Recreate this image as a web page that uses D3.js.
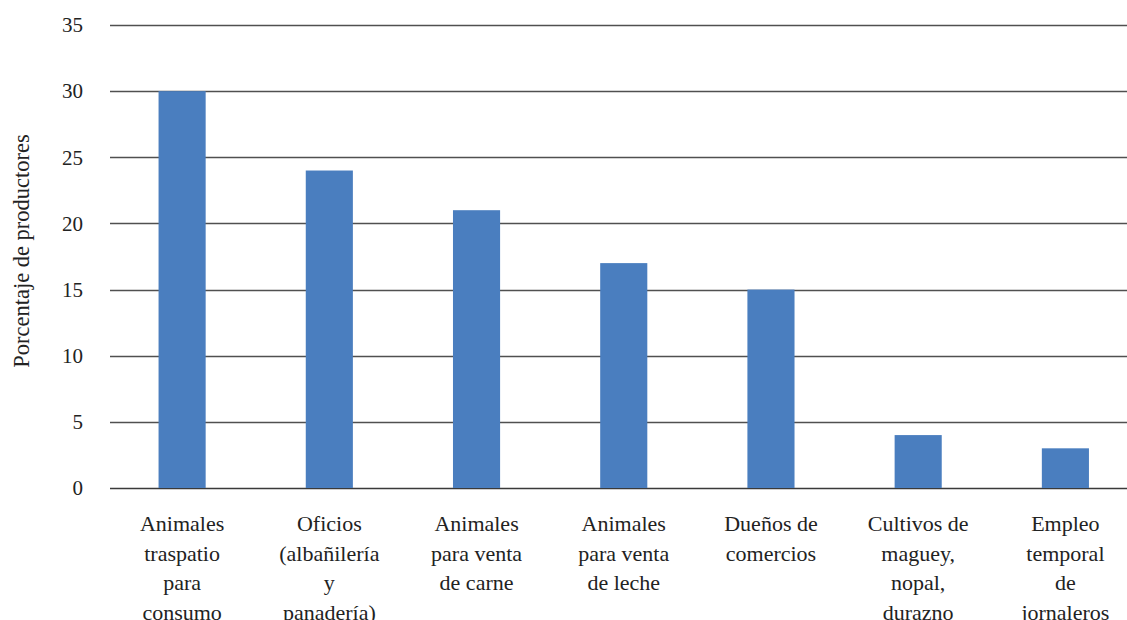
<!DOCTYPE html>
<html>
<head>
<meta charset="utf-8">
<script src="https://cdn.jsdelivr.net/npm/d3@7"></script>
<style>
  body { margin: 0; background: #fff; }
  text { font-family: "Liberation Serif", "DejaVu Serif", serif; fill: #222; }
</style>
</head>
<body>
<script>
// ----------------------------------------
//  Data
// ----------------------------------------
var categories = [
  ["Animales", "traspatio", "para", "consumo"],
  ["Oficios", "(albañilería", "y", "panadería)"],
  ["Animales", "para venta", "de carne"],
  ["Animales", "para venta", "de leche"],
  ["Dueños de", "comercios"],
  ["Cultivos de", "maguey,", "nopal,", "durazno"],
  ["Empleo", "temporal", "de", "jornaleros"]
];
var values = [30, 24, 21, 17, 15, 4, 3];
var yTicks = [0, 5, 10, 15, 20, 25, 30, 35];
var yTitle = "Porcentaje de productores";

var W = 1127, H = 620;
var gridLeft = 110, gridRight = 1127;
var plotTop = 25, plotBottom = 488;

var svg = d3.select("body").append("svg")
    .attr("width", W)
    .attr("height", H);

// ----------------------------------------
// Scales
// ----------------------------------------
var idx = categories.map(function(d, i) { return i; });

var x = d3.scaleBand()
    .domain(idx)
    .range([108.5, 1139])
    .paddingInner(0.68)
    .paddingOuter(0.34);

var y = d3.scaleLinear()
    .domain([0, 35])
    .range([plotBottom, plotTop]);

// gridlines
svg.append("g").selectAll("line")
    .data(yTicks)
    .enter()
    .append("line")
    .attr("x1", gridLeft)
    .attr("x2", gridRight)
    .attr("y1", function(d) { return Math.round(y(d)) + 0.5; })
    .attr("y2", function(d) { return Math.round(y(d)) + 0.5; })
    .attr("stroke", function(d) { return d === 0 ? "#3a3a3a" : "#505050"; })
    .attr("stroke-width", 1.4);

// y tick labels
svg.append("g").selectAll("text")
    .data(yTicks)
    .enter()
    .append("text")
    .attr("x", 83)
    .attr("y", function(d) { return y(d); })
    .attr("dy", "0.35em")
    .attr("text-anchor", "end")
    .style("font-size", "21px")
    .text(function(d) { return d; });

// bars
svg.selectAll(".bar")
    .data(values)
    .enter()
    .append("rect")
    .attr("class", "bar")
    .attr("x", function(d, i) { return x(i); })
    .attr("width", x.bandwidth())
    .attr("y", function(d) { return y(d); })
    .attr("height", function(d) { return plotBottom - y(d); })
    .attr("fill", "#4a7ebf");

// category labels
var lab = svg.append("g").selectAll("text")
    .data(categories)
    .enter()
    .append("text")
    .attr("text-anchor", "middle")
    .style("font-size", "22px")
    .attr("transform", function(d, i) {
      return "translate(" + (x(i) + x.bandwidth() / 2) + ",531)";
    });

lab.selectAll("tspan")
    .data(function(d) { return d; })
    .enter()
    .append("tspan")
    .attr("x", 0)
    .attr("y", function(d, j) { return j * 29.5; })
    .text(function(d) { return d; });

// y axis title
svg.append("text")
    .attr("transform", "translate(29,251) rotate(-90)")
    .attr("text-anchor", "middle")
    .style("font-size", "22.5px")
    .text(yTitle);
</script>
</body>
</html>
